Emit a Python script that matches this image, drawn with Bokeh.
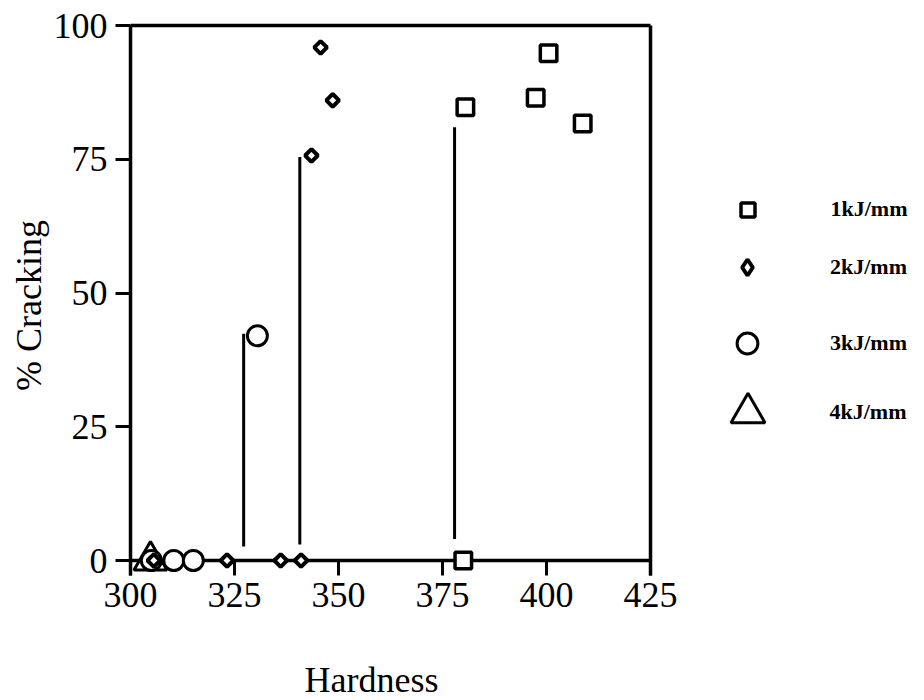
import math
from bokeh.plotting import figure
from bokeh.models import Range1d, FixedTicker, Legend, LegendItem, Label
from bokeh.embed import file_html
from bokeh.resources import INLINE

# ---- data ----
series_labels = ["1kJ/mm", "2kJ/mm", "3kJ/mm", "4kJ/mm"]

hard_1kj = [380.0, 380.5, 397.4, 400.5, 408.7]
crack_1kj = [0, 84.7, 86.5, 94.8, 81.7]

hard_2kj = [305.6, 323.2, 336.1, 341.0, 343.5, 345.7, 348.6]
crack_2kj = [0, 0, 0, 0, 75.7, 95.9, 86.0]

hard_3kj = [305.0, 310.4, 315.1, 330.5]
crack_3kj = [0, 0, 0, 42.0]

hard_4kj = [304.8]
crack_4kj = [0]

# threshold (drop) lines
thr_hard = [327.2, 340.7, 377.9]
thr_low = [2.6, 3.0, 4.0]
thr_high = [42.4, 75.4, 81.0]

x_ticks = [300, 325, 350, 375, 400, 425]
y_ticks = [0, 25, 50, 75, 100]
x_min, x_max = 300, 425
y_min, y_max = 0, 100
x_title = "Hardness"
y_title = "% Cracking"

FONT = "Liberation Serif"

# pixel geometry of the reference axes box; the frame covers the whole canvas
W, H = 924, 700
PX_LEFT, PX_RIGHT = 130, 650      # x = 300 .. 425
PX_TOP, PX_ZERO = 25, 560         # y = 100 .. 0
sx = (PX_RIGHT - PX_LEFT) / (x_max - x_min)
sy = (PX_ZERO - PX_TOP) / (y_max - y_min)
x_lo = x_min - PX_LEFT / sx
x_hi = x_min + (W - PX_LEFT) / sx
y_lo = y_min - (H - PX_ZERO) / sy
y_hi = y_max + PX_TOP / sy
y_axis_bottom = y_min - 15 / sy   # axis line reaches below zero like the tick


def dx(px):
    return x_min + (px - PX_LEFT) / sx


def dy(py):
    return y_min + (PX_ZERO - py) / sy


p = figure(width=W, height=H, output_backend="svg", toolbar_location=None,
           title=None,
           x_range=Range1d(x_lo, x_hi), y_range=Range1d(y_lo, y_hi),
           min_border=0, min_border_left=0, min_border_right=0,
           min_border_top=0, min_border_bottom=0)
p.xgrid.grid_line_color = None
p.ygrid.grid_line_color = None
p.outline_line_color = None
p.background_fill_color = "white"
p.border_fill_color = "white"

xa = p.xaxis[0]
xa.fixed_location = y_min
xa.bounds = (x_min, x_max)
xa.ticker = FixedTicker(ticks=x_ticks)
ya = p.yaxis[0]
ya.fixed_location = x_min
ya.bounds = (y_axis_bottom, y_max)
ya.ticker = FixedTicker(ticks=y_ticks)
for ax, so in ((xa, 7), (ya, 8)):
    ax.axis_line_width = 3.5
    ax.axis_line_color = "black"
    ax.major_tick_line_width = 3
    ax.major_tick_line_color = "black"
    ax.major_tick_out = 15
    ax.major_tick_in = 0
    ax.minor_tick_out = 0
    ax.minor_tick_in = 0
    ax.major_label_text_font = FONT
    ax.major_label_text_font_size = "36px"
    ax.major_label_text_color = "black"
    ax.major_label_standoff = so

# frame top & right edges
p.segment(x0=[x_min, x_max], y0=[y_max, y_axis_bottom], x1=[x_max, x_max], y1=[y_max, y_max],
          line_color="black", line_width=3.5)

p.add_layout(Label(x=dx(304), y=dy(679), text=x_title, text_font=FONT,
                   text_font_size="36px", text_color="black",
                   text_align="left", text_baseline="middle"))
p.add_layout(Label(x=dx(28), y=dy(305), text=y_title, angle=math.pi / 2,
                   text_font=FONT, text_font_size="36px", text_color="black",
                   text_align="center", text_baseline="middle"))

# threshold lines
p.segment(x0=thr_hard, y0=thr_low, x1=thr_hard, y1=thr_high,
          line_color="black", line_width=3)

common = dict(fill_color="white", line_color="black", level="annotation")
r4 = p.scatter(hard_4kj, crack_4kj, marker="triangle", size=33, line_width=3, **common)
r3 = p.scatter(hard_3kj, crack_3kj, marker="circle", size=20, line_width=3, **common)
r2 = p.scatter(hard_2kj, crack_2kj, marker="square", angle=math.pi / 4, size=9,
               line_width=4, **common)
r1 = p.scatter(hard_1kj, crack_1kj, marker="square", size=16.5, line_width=3.5, **common)
# legend swatch for the diamonds (legend swatches ignore marker angle)
r2_key = p.scatter(hard_2kj[:1], crack_2kj[:1], marker="diamond", size=16, line_width=4,
                   visible=False, fill_color="white", line_color="black")

# one legend per item so each glyph keeps its own size
leg_specs = [
    (r1, series_labels[0], 35, 209),
    (r2_key, series_labels[1], 40, 267),
    (r3, series_labels[2], 52, 343),
    (r4, series_labels[3], 85, 412),
]
for rend, lab, gw, cy in leg_specs:
    leg = Legend(items=[LegendItem(label=lab, renderers=[rend])],
                 location=(747 - gw / 2, H - cy - gw / 2),
                 glyph_width=gw, glyph_height=gw, label_height=gw,
                 label_standoff=int(round(83 - gw / 2)),
                 padding=0, margin=0, spacing=0,
                 border_line_color=None, background_fill_alpha=0,
                 label_text_font=FONT, label_text_font_size="22px",
                 label_text_font_style="bold", label_text_color="black")
    p.add_layout(leg)

open("out.html", "w").write(file_html(p, INLINE))
